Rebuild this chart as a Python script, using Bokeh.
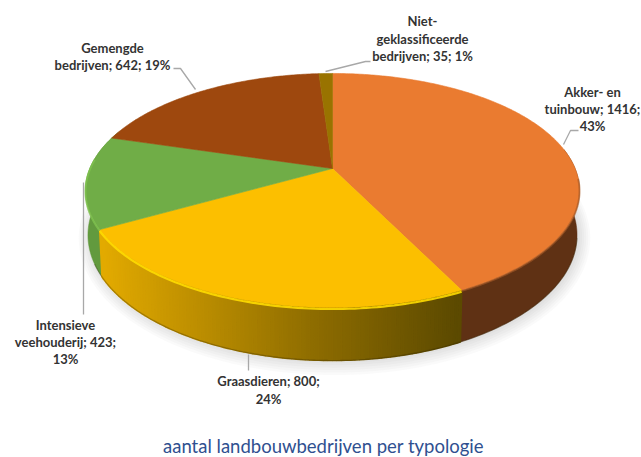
import numpy as np
from bokeh.plotting import figure
from bokeh.models import Range1d, ColumnDataSource
from bokeh.core.properties import value
from bokeh.embed import file_html
from bokeh.resources import INLINE

categories = ["Akker- en tuinbouw", "Graasdieren", "Intensieve veehouderij",
              "Gemengde bedrijven", "Niet-geklassificeerde bedrijven"]
values = [1416, 800, 423, 642, 35]
top_colors = ["#EA7B30", "#FCBF00", "#70AD47", "#9E480E", "#997300"]
title_text = "aantal landbouwbedrijven per typologie"

label_lines = ["Niet-", "geklassificeerde", "bedrijven; 35; 1%",
               "Akker- en", "tuinbouw; 1416;", "43%",
               "Gemengde", "bedrijven; 642; 19%",
               "Intensieve", "veehouderij; 423;", "13%",
               "Graasdieren; 800;", "24%"]
label_x = [422, 422, 422, 592, 592, 592, 112, 112, 65, 65, 65, 268, 268]
label_y = [20, 38, 55, 91, 108, 125, 47, 64, 324, 341, 358, 380, 398]
leader_x = [[325, 365, 370], [563, 570, 578], [195, 180, 173], [83, 83], [248, 248]]
leader_y = [[71, 61, 61], [144, 130, 130], [89, 68, 68], [182, 314], [354, 370]]

# perspective disc: apex, half axes and foreshortening
CX, CY, A, B, K = 332.0, 168.0, 242.6, 112.9, 0.188
DEPTH, BASE_SCALE = 43.0, 0.99


def rim(theta, depth=0.0, scale=1.0, grow=0.0):
    s, c = np.sin(theta), np.cos(theta)
    den = 1 + K * c
    x = CX + (A * scale + grow) * s / den
    y = CY - (B + grow) * c / den + depth / den
    return x, y


cum = np.cumsum([0] + values) / sum(values) * 2 * np.pi

p = figure(width=641, height=457, output_backend="svg", toolbar_location=None,
           x_range=Range1d(0, 641), y_range=Range1d(457, 0),
           min_border=0, outline_line_color=None, background_fill_color="white",
           border_fill_color="white")
p.axis.visible = False
p.grid.visible = False

# soft shadow under the base
t = np.linspace(0, 2 * np.pi, 241)
for g, a in zip([11, 9, 7, 5, 3, 1], [0.035] * 6):
    x, y = rim(t, DEPTH, BASE_SCALE, g)
    p.patch(x + 2, y + 1, fill_color="#777777", fill_alpha=a, line_color=None)


def wall_color(xm):
    # graasdieren wall runs from light to dark, left to right
    f = np.clip((xm - 103) / (458 - 103), 0, 1)
    r = np.interp(f, [0, 0.6, 1], [0xE2, 0x8D, 0x5C])
    g = np.interp(f, [0, 0.6, 1], [0xAA, 0x6C, 0x4A])
    return "#%02x%02x00" % (int(r), int(g))


def wall_patch(a0, a1, n=90):
    arc = np.linspace(a0, a1, n)
    x0, y0 = rim(arc)
    x1, y1 = rim(arc[::-1], DEPTH, BASE_SCALE)
    return np.r_[x0, x1], np.r_[y0, y1]


# flat walls: akker (right), intensieve (left)
x, y = wall_patch(np.radians(80), cum[1])
p.patch(x, y, fill_color="#5F3114", line_color="#5F3114", line_width=0.5)
x, y = wall_patch(cum[2], np.radians(290))
p.patch(x, y, fill_color="#629A3E", line_color="#629A3E", line_width=0.5)

# graasdieren wall, overlapping strips so that no seams show
edges = np.linspace(cum[1], cum[2], 100)
xs, ys, cols = [], [], []
for a0, a1 in zip(edges[:-1], edges[1:]):
    x, y = wall_patch(a0, a1, 2)
    xs.append(list(x))
    ys.append(list(y))
    cols.append(wall_color(float(x[:2].mean())))
p.patches("xs", "ys", source=ColumnDataSource(dict(xs=xs, ys=ys, c=cols)),
          fill_color="c", line_color="c", line_width=1.6)

# dark foot of the wall
tf = np.linspace(cum[1] - 0.9, cum[2] + 0.1, 120)
xf, yf = rim(tf, DEPTH, BASE_SCALE)
p.line(xf, yf, line_color="#2b2000", line_alpha=0.3, line_width=1.2)

# top faces
txs, tys = [], []
for i in range(len(values)):
    arc = np.linspace(cum[i], cum[i + 1], max(3, int((cum[i + 1] - cum[i]) * 90)))
    x, y = rim(arc)
    txs.append([CX] + list(x))
    tys.append([CY] + list(y))
p.patches(txs, tys, fill_color=top_colors, line_color=top_colors, line_width=0.6)

# bevel highlights along the rim
arc = np.linspace(cum[1], cum[2], 80)
x, y = rim(arc, 1.2)
p.line(x, y, line_color="#FFDB00", line_width=2.2, line_alpha=0.9)
arc = np.linspace(cum[2], cum[2] + 0.75 * (cum[3] - cum[2]), 40)
x, y = rim(arc, 1.0)
p.line(x, y, line_color="#7FC24F", line_width=2.0, line_alpha=0.8)
arc = np.linspace(np.radians(95), cum[1], 60)
x, y = rim(arc, 0.5)
p.line(x, y, line_color="#A85C28", line_width=2.0, line_alpha=0.6)

p.multi_line(leader_x, leader_y, line_color="#A8A8A8", line_width=1.3)

p.text(label_x, label_y, text=label_lines, text_font=value("Lato"),
       text_font_size="13px", text_font_style="bold", text_color="#333333",
       text_align="center", text_baseline="middle")
p.text([323], [445], text=[title_text], text_font=value("Lato"),
       text_font_size="18.5px", text_color="#2F5090",
       text_align="center", text_baseline="middle")

open("out.html", "w").write(file_html(p, INLINE))
